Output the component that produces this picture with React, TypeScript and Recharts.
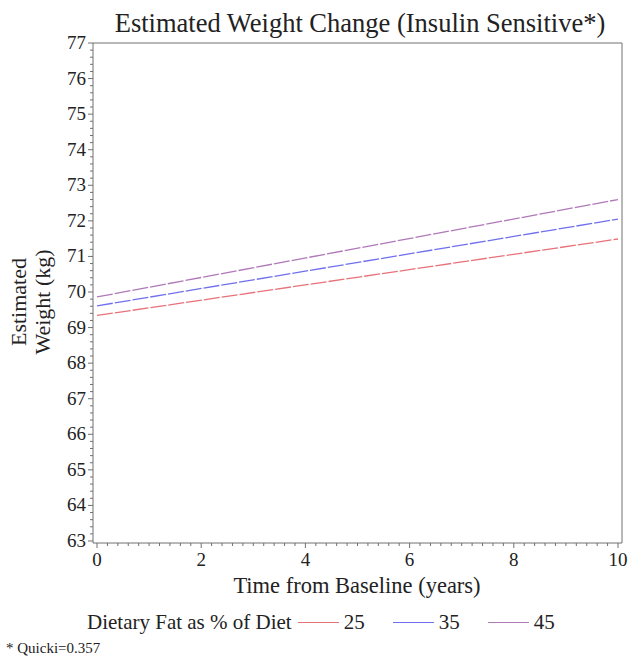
import React from "react";
import { LineChart, Line, XAxis, YAxis } from "recharts";

const years = [0, 10];
const fat25 = [69.34, 71.49];
const fat35 = [69.61, 72.05];
const fat45 = [69.86, 72.6];

const seriesNames = ["25", "35", "45"];
const seriesColors = ["#e8727a", "#7070ee", "#b079b8"];
const seriesValues = [fat25, fat35, fat45];

const xMajor = [0, 2, 4, 6, 8, 10];
const yMajor = [63, 64, 65, 66, 67, 68, 69, 70, 71, 72, 73, 74, 75, 76, 77];

const xTicks: number[] = [];
for (let i = 0; i <= 50; i++) xTicks.push(Math.round(i * 0.2 * 10) / 10);
const yTicks: number[] = [];
for (let i = 0; i <= 70; i++) yTicks.push(Math.round((63 + i * 0.2) * 10) / 10);

const data = years.map((t, i) => {
  const row: any = { t };
  seriesNames.forEach((n, k) => {
    row["s" + n] = seriesValues[k][i];
  });
  return row;
});

const FONT = "'Liberation Serif', 'Times New Roman', serif";
const AXIS = "#707070";

const isMajor = (v: number, list: number[]) => list.some((m) => Math.abs(m - v) < 1e-6);

const XTick = (props: any) => {
  const { x, y, payload } = props;
  const major = isMajor(payload.value, xMajor);
  return (
    <g>
      <line x1={x} x2={x} y1={y} y2={y + (major ? 5 : 3)} stroke={AXIS} strokeWidth={1} />
      {major && (
        <text x={x} y={y + 23} textAnchor="middle" fontFamily={FONT} fontSize={19} fill="#222">
          {payload.value}
        </text>
      )}
    </g>
  );
};

const YTick = (props: any) => {
  const { x, y, payload } = props;
  const major = isMajor(payload.value, yMajor);
  return (
    <g>
      <line x1={x} x2={x - (major ? 5 : 3)} y1={y} y2={y} stroke={AXIS} strokeWidth={1} />
      {major && (
        <text x={x - 7} y={y + 6} textAnchor="end" fontFamily={FONT} fontSize={19} fill="#222">
          {payload.value}
        </text>
      )}
    </g>
  );
};

export default function App() {
  return (
    <div style={{ position: "absolute", left: 0, top: 0, width: 629, height: 657, background: "#fff", fontFamily: FONT, color: "#222" }}>
      <LineChart width={629} height={657} data={data} margin={{ top: 42, right: 6, bottom: 113, left: 0 }}>
        <XAxis
          xAxisId="b"
          dataKey="t"
          type="number"
          domain={[0, 10]}
          ticks={xTicks}
          interval={0}
          tickSize={0}
          tickMargin={0}
          height={1}
          padding={{ left: 4, right: 4 }}
          axisLine={{ stroke: AXIS }}
          tickLine={false}
          tick={<XTick />}
        />
        <XAxis xAxisId="top" orientation="top" type="number" domain={[0, 10]} height={1} tick={false} tickLine={false} axisLine={{ stroke: AXIS }} />
        <YAxis
          yAxisId="l"
          type="number"
          domain={[63, 77]}
          ticks={yTicks}
          interval={0}
          tickSize={0}
          tickMargin={0}
          width={93}
          padding={{ top: 0, bottom: 2 }}
          axisLine={{ stroke: AXIS }}
          tickLine={false}
          tick={<YTick />}
        />
        <YAxis yAxisId="r" orientation="right" type="number" domain={[63, 77]} width={1} tick={false} tickLine={false} axisLine={{ stroke: AXIS }} />
        {seriesNames.map((n, i) => (
          <Line
            key={n}
            xAxisId="b"
            yAxisId="l"
            dataKey={"s" + n}
            stroke={seriesColors[i]}
            strokeWidth={1.3}
            strokeDasharray="16 2"
            dot={false}
            isAnimationActive={false}
          />
        ))}
      </LineChart>

      <div style={{ position: "absolute", left: 60, width: 600, top: 8, textAlign: "center", fontSize: 26.5, lineHeight: "30px", whiteSpace: "nowrap" }}>
        Estimated Weight Change (Insulin Sensitive*)
      </div>

      <div
        style={{
          position: "absolute",
          left: 31,
          top: 302,
          transform: "translate(-50%, -50%) rotate(-90deg)",
          textAlign: "center",
          fontSize: 22,
          lineHeight: "24px",
          whiteSpace: "nowrap",
        }}
      >
        Estimated
        <br />
        Weight (kg)
      </div>

      <div style={{ position: "absolute", left: 57, width: 600, top: 573, textAlign: "center", fontSize: 22.5, lineHeight: "26px", whiteSpace: "nowrap" }}>
        Time from Baseline (years)
      </div>

      <div style={{ position: "absolute", left: 87, top: 609, fontSize: 21, lineHeight: "26px", whiteSpace: "nowrap", display: "flex", alignItems: "center" }}>
        <span>Dietary Fat as % of Diet</span>
        {seriesNames.map((n, i) => (
          <span key={n} style={{ display: "inline-flex", alignItems: "center", marginLeft: i === 0 ? 6 : 28 }}>
            <span style={{ display: "inline-block", width: 41, height: 0, borderTop: `1.3px solid ${seriesColors[i]}` }} />
            <span style={{ marginLeft: 5 }}>{n}</span>
          </span>
        ))}
      </div>

      <div style={{ position: "absolute", left: 6, top: 639, fontSize: 15, lineHeight: "18px", whiteSpace: "nowrap" }}>
        * Quicki=0.357
      </div>
    </div>
  );
}
